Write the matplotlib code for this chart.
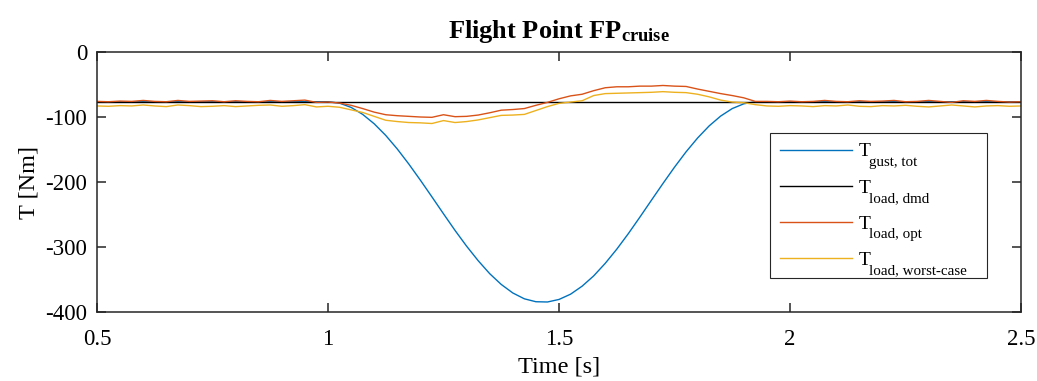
import matplotlib
matplotlib.use("Agg")
import matplotlib.pyplot as plt
import numpy as np

plt.rcParams['font.family'] = ['Liberation Serif', 'DejaVu Serif']
plt.rcParams['mathtext.fontset'] = 'custom'
plt.rcParams['mathtext.rm'] = 'Liberation Serif'
plt.rcParams['mathtext.it'] = 'Liberation Serif:italic'
plt.rcParams['mathtext.bf'] = 'Liberation Serif:bold'
plt.rcParams['axes.unicode_minus'] = False

# time grid [s]
time = [0.5 + 0.025 * i for i in range(81)]

# gust torque (1-cos gust)
t_gust = [-76.5] * 21 + [
    -78.7, -85.2, -95.9, -110.4, -128.3, -149.2, -172.4, -197.2, -222.9, -248.9,
    -274.5, -298.7, -321.0, -341.0, -357.6, -370.7, -379.7, -384.2, -384.6, -380.7,
    -372.6, -360.3, -344.5, -325.2, -303.4, -279.5, -254.1, -228.1, -202.3, -177.2,
    -153.6, -132.3, -113.7, -98.5, -87.0, -79.7, -76.6] + [-76.5] * 23

# demanded load torque
t_dmd = [-76.5] * 81

# optimal load torque
t_opt = [
    -76.0, -76.5, -75.5, -76.0, -74.5, -76.0, -76.5, -74.5, -76.0, -75.5,
    -75.0, -76.5, -75.0, -76.0, -76.5, -74.5, -76.0, -75.0, -74.0, -77.5,
    -77.0, -78.5, -82.0, -87.0, -92.5, -96.5, -98.0, -99.0, -100.0, -100.5,
    -96.5, -99.5, -99.0, -97.0, -93.5, -89.5, -88.5, -87.0, -82.0, -77.5,
    -72.0, -67.5, -65.0, -59.5, -55.0, -53.5, -53.5, -52.5, -52.5, -51.5,
    -52.5, -53.0, -57.0, -60.5, -64.0, -67.0, -70.5, -76.0, -76.0, -76.5,
    -75.5, -76.5, -76.0, -74.5, -76.0, -76.5, -75.0, -76.0, -75.5, -74.5,
    -76.5, -76.0, -74.5, -76.0, -77.5, -75.0, -76.0, -74.5, -76.0, -77.0,
    -76.5]

# worst-case load torque
t_worst = [
    -83.0, -83.5, -82.5, -83.0, -81.5, -83.0, -84.0, -81.5, -82.5, -84.0,
    -83.5, -82.5, -84.0, -83.0, -82.0, -81.5, -83.5, -82.5, -81.0, -84.5,
    -83.5, -85.0, -89.0, -93.0, -99.0, -105.0, -107.0, -108.5, -109.0, -110.0,
    -105.5, -108.5, -107.0, -104.5, -101.0, -97.5, -97.0, -96.0, -90.0, -84.0,
    -79.0, -77.0, -75.0, -67.0, -64.0, -63.5, -63.0, -62.5, -62.0, -61.0,
    -62.0, -62.5, -65.0, -69.0, -74.0, -77.0, -78.0, -81.0, -83.0, -83.5,
    -82.5, -83.0, -84.0, -82.5, -83.0, -81.5, -83.5, -84.0, -82.5, -83.0,
    -82.0, -83.5, -84.5, -83.0, -81.5, -83.0, -84.5, -83.0, -82.5, -83.5,
    -83.0]

x_ticks = [0.5, 1, 1.5, 2, 2.5]
x_labels = ['0.5', '1', '1.5', '2', '2.5']
y_ticks = [-400, -300, -200, -100, 0]
y_labels = ['-400', '-300', '-200', '-100', '0']

legend_main = ['T', 'T', 'T', 'T']
legend_sub = ['gust, tot', 'load, dmd', 'load, opt', 'load, worst-case']

fig = plt.figure(figsize=(10.37, 3.81), dpi=100)
ax = fig.add_axes([0.0935, 0.1811, 0.8911, 0.6824])

lw = 1.0
ax.plot(time, t_gust, color='#0072BD', lw=lw)
ax.plot(time, t_dmd, color='black', lw=lw)
ax.plot(time, t_opt, color='#D95319', lw=lw)
ax.plot(time, t_worst, color='#EDB120', lw=lw)

ax.set_xlim(0.5, 2.5)
ax.set_ylim(-400, 0)
ax.set_xticks(x_ticks)
ax.set_xticklabels(x_labels)
ax.set_yticks(y_ticks)
ax.set_yticklabels(y_labels)

for s in ax.spines.values():
    s.set_linewidth(1.1)
    s.set_color('#262626')
ax.tick_params(direction='in', length=6.5, width=1.1, color='#262626',
               labelsize=16.5, top=True, right=True)
ax.tick_params(axis='x', pad=12)
ax.tick_params(axis='y', pad=7)

ax.set_xlabel('Time [s]', fontsize=17.5, labelpad=5)
ax.set_ylabel('T [Nm]', fontsize=17.5, labelpad=4)
ax.set_title(r'Flight Point FP$_{\mathbf{cruise}}$', fontsize=19, fontweight='bold', pad=10)

# legend: big "T" with larger subscript text placed next to it
leg = ax.legend(ax.get_lines(), legend_main,
                loc='upper left', bbox_to_anchor=(0.7284, 0.138, 0.2349, 0.55),
                mode='expand', fontsize=14,
                fancybox=False, edgecolor='#262626', framealpha=1,
                handlelength=3.7, handletextpad=0.35, labelspacing=0.95,
                borderpad=0.5, borderaxespad=0)
leg.get_frame().set_linewidth(0.8)
for txt, sub in zip(leg.get_texts(), legend_sub):
    ax.annotate(sub, xy=(0, 0), xycoords=txt, xytext=(7.8, -4.2),
                textcoords='offset points', fontsize=10.8, va='baseline',
                ha='left', annotation_clip=False, zorder=10)

fig.savefig('out.png', dpi=100)
